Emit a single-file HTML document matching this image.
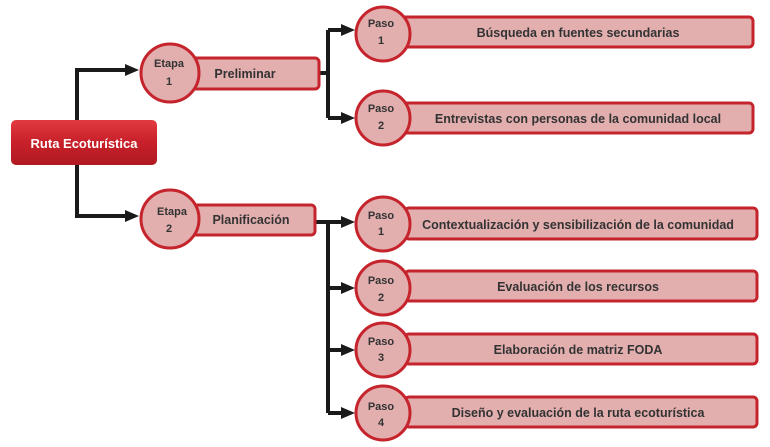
<!DOCTYPE html><html><head><meta charset="utf-8"><style>body{margin:0;background:#fff}svg{display:block}text{font-family:"Liberation Sans",sans-serif;font-weight:bold;fill:#333}</style></head><body>
<svg width="770" height="447" viewBox="0 0 770 447">
<defs><linearGradient id="g" x1="0" y1="0" x2="0" y2="1"><stop offset="0" stop-color="#e23a3f"/><stop offset="0.5" stop-color="#c8202a"/><stop offset="1" stop-color="#b01a22"/></linearGradient>
<marker id="a" markerWidth="15" markerHeight="14" refX="4" refY="7" orient="auto" markerUnits="userSpaceOnUse" overflow="visible"><path d="M0,1L14,7L0,13z" fill="#1a1a1a"/></marker></defs>
<g stroke="#1a1a1a" stroke-width="4" fill="none">
<path d="M77,120V70H129" marker-end="url(#a)"/>
<path d="M77,165V216H129" marker-end="url(#a)"/>
<path d="M318,73H328"/><path d="M328,30V118"/>
<path d="M328,30H345" marker-end="url(#a)"/><path d="M328,118H345" marker-end="url(#a)"/>
<path d="M314,222H328"/><path d="M328,222V413"/>
<path d="M328,222H345" marker-end="url(#a)"/><path d="M328,288H345" marker-end="url(#a)"/>
<path d="M328,350H345" marker-end="url(#a)"/><path d="M328,413H345" marker-end="url(#a)"/>
</g>
<rect x="11" y="120" width="146" height="45" rx="5" fill="url(#g)"/>
<text x="84" y="148" text-anchor="middle" font-size="13" style="fill:#fff">Ruta Ecoturística</text>
<g fill="#e2aeae" stroke="#c6242c" stroke-width="3">
<rect x="190" y="58" width="129" height="31" rx="4"/><circle cx="170" cy="73" r="29"/>
<rect x="190" y="205" width="125" height="30" rx="4"/><circle cx="170" cy="219" r="29"/>
<rect x="400" y="17" width="353" height="30" rx="4"/><circle cx="383" cy="34" r="27"/>
<rect x="400" y="103" width="353" height="30" rx="4"/><circle cx="383" cy="118" r="27"/>
<rect x="405" y="208" width="352" height="31" rx="4"/><circle cx="383" cy="224" r="27"/>
<rect x="405" y="271" width="352" height="30" rx="4"/><circle cx="383" cy="288" r="27"/>
<rect x="405" y="334" width="352" height="30" rx="4"/><circle cx="383" cy="350" r="27"/>
<rect x="405" y="397" width="352" height="30" rx="4"/><circle cx="383" cy="413" r="27"/>
</g>
<g font-size="11" text-anchor="middle">
<text x="169" y="67">Etapa</text><text x="169" y="85">1</text>
<text x="172" y="215">Etapa</text><text x="169" y="232">2</text>
<text x="381" y="27">Paso</text><text x="381" y="44">1</text>
<text x="381" y="112">Paso</text><text x="381" y="129">2</text>
<text x="381" y="219">Paso</text><text x="381" y="235">1</text>
<text x="381" y="284">Paso</text><text x="381" y="301">2</text>
<text x="381" y="345">Paso</text><text x="381" y="361">3</text>
<text x="381" y="410">Paso</text><text x="381" y="426">4</text>
</g>
<g font-size="12.5" text-anchor="middle">
<text x="245" y="78">Preliminar</text>
<text x="251" y="224">Planificación</text>
<text x="578" y="37">Búsqueda en fuentes secundarias</text>
<text x="578" y="123">Entrevistas con personas de la comunidad local</text>
<text x="578" y="229">Contextualización y sensibilización de la comunidad</text>
<text x="578" y="291">Evaluación de los recursos</text>
<text x="578" y="354">Elaboración de matriz FODA</text>
<text x="578" y="417">Diseño y evaluación de la ruta ecoturística</text>
</g>
</svg></body></html>
